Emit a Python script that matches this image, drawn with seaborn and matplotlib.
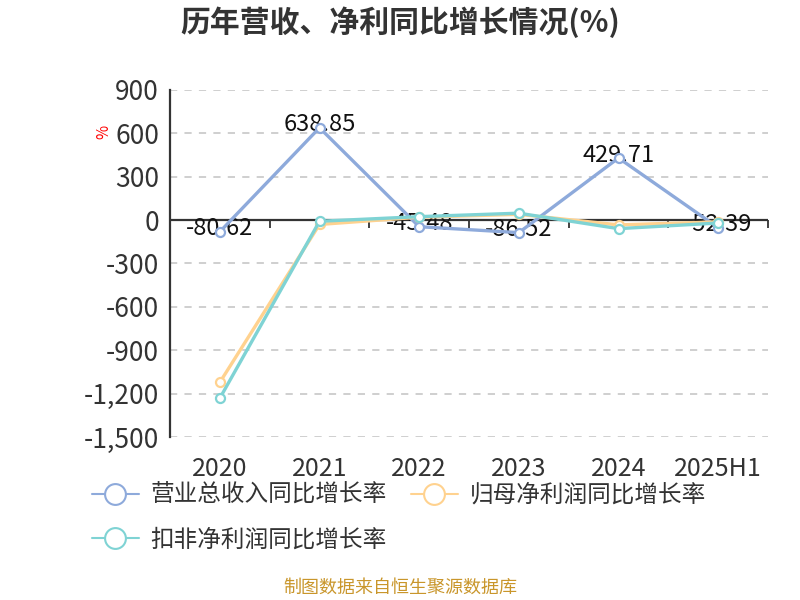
import numpy as np
import pandas as pd
import seaborn as sns
import matplotlib.pyplot as plt
from matplotlib.ticker import FuncFormatter, FixedLocator
from matplotlib.lines import Line2D

# datos
years = ["2020", "2021", "2022", "2023", "2024", "2025H1"]
revenue_growth = [-80.62, 638.85, -45.48, -86.52, 429.71, -52.39]
parent_np_growth = [-1122, -30, 20, 40, -33, -12]
deducted_np_growth = [-1232, -8, 24, 48, -59, -20]

names = ["营业总收入同比增长率", "归母净利润同比增长率", "扣非净利润同比增长率"]
colors = ["#8EAADB", "#FFD28F", "#7FD3D4"]
series = [revenue_growth, parent_np_growth, deducted_np_growth]

sns.set_style("white")
plt.rcParams['font.family'] = ['Noto Sans CJK SC', 'DejaVu Sans']

fig = plt.figure(figsize=(8, 6), dpi=100)
ax = fig.add_axes([0.2125, 0.2717, 0.7475, 0.5783])

for name, vals, c in zip(names, series, colors):
    df = pd.DataFrame({"year": years, "value": vals})
    sns.lineplot(data=df, x="year", y="value", ax=ax, sort=False, color=c,
                 linewidth=2.4, marker="o", markersize=6.5, markerfacecolor="white",
                 markeredgecolor=c, markeredgewidth=1.6, label=name, legend=False,
                 zorder=3)

# etiquetas de la serie de ingresos (debajo de las lineas)
for i, v in enumerate(revenue_growth):
    ax.annotate(f"{v:.2f}", (i, v), xytext=(0, 2), textcoords="offset points",
                ha="center", va="center", fontsize=17, color="#111111", zorder=2)

ax.set_xlim(-0.5, len(years) - 0.5)
ax.set_ylim(-1500, 900)
ax.yaxis.set_major_locator(FixedLocator(np.arange(-1500, 901, 300)))
ax.yaxis.set_major_formatter(FuncFormatter(lambda v, p: f"{int(v):,}"))
ax.grid(axis="y", color="#cccccc", linestyle=(0, (4, 4)), linewidth=1.3)
ax.grid(axis="x", visible=False)
ax.set_xlabel("")
ax.set_ylabel("")

for s in ["top", "right", "bottom"]:
    ax.spines[s].set_visible(False)
ax.spines["left"].set_color("#333333")
ax.spines["left"].set_linewidth(1.6)
ax.tick_params(axis="y", length=5, width=1.3, color="#333333", labelsize=19,
               labelcolor="#333333", pad=3)
ax.tick_params(axis="x", length=0, labelsize=18, labelcolor="#333333", pad=14)

# eje en cero con marcas entre categorias
ax.axhline(0, color="#333333", linewidth=1.6, zorder=1)
sec = ax.secondary_xaxis(0, transform=ax.transData)
sec.set_xticks(np.arange(-0.5, len(years), 1.0))
sec.tick_params(axis="x", direction="out", length=6, width=1.3, color="#333333",
                labelbottom=False)
sec.spines["bottom"].set_visible(False)

fig.text(0.13, 0.78, "%", color="red", fontsize=11, rotation=90, ha="center", va="center")

fig.suptitle("历年营收、净利同比增长情况(%)", x=0.5, y=0.963, va="center",
             fontsize=21.5, fontweight="bold", color="#333333")

handles = [Line2D([0], [0], color=c, linewidth=1.5, marker="o", markersize=15,
                  markerfacecolor="white", markeredgecolor=c, markeredgewidth=1.5)
           for c in colors]
order = [0, 2, 1]
fig.legend([handles[i] for i in order], [names[i] for i in order], ncol=2,
           loc="upper left", bbox_to_anchor=(0.088, 0.229), frameon=False,
           fontsize=17, handlelength=2.0, handletextpad=0.5, columnspacing=1.0,
           labelspacing=0.92, labelcolor="#333333")

fig.text(0.5, 0.02, "制图数据来自恒生聚源数据库", color="#C9962B", fontsize=13,
         ha="center", va="center")

plt.savefig("out.png", dpi=100)
